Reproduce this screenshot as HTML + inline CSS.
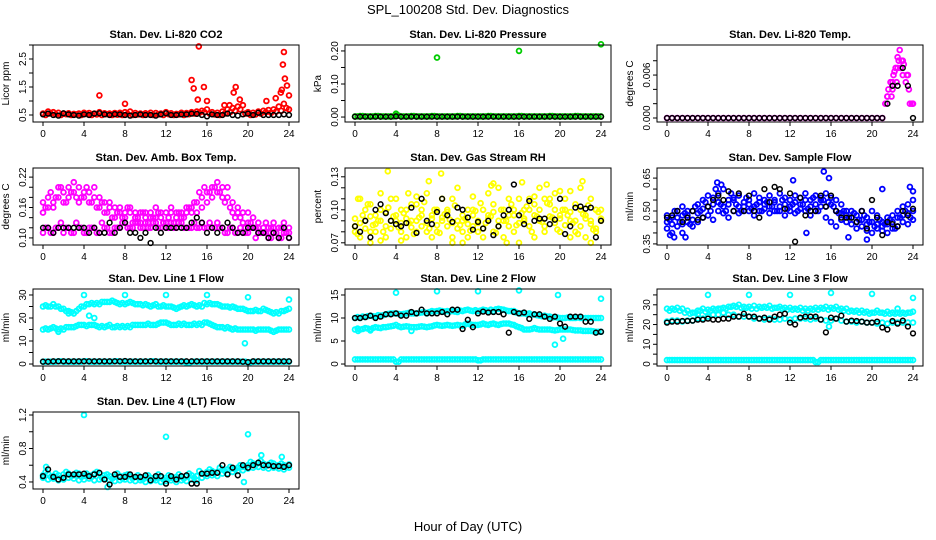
<!DOCTYPE html>
<html><head><meta charset="utf-8"><style>
body{margin:0;background:#fff;}
svg{display:block;font-family:"Liberation Sans",Arial,sans-serif;}
</style></head><body>
<svg id="chart" width="936" height="540" viewBox="0 0 936 540" xmlns="http://www.w3.org/2000/svg">
<rect width="936" height="540" fill="#fff"/>
<text x="468" y="14" text-anchor="middle" font-size="13">SPL_100208  Std. Dev. Diagnostics</text>
<text x="468" y="531" text-anchor="middle" font-size="13">Hour of Day (UTC)</text>
</svg>
<script>
const T = [0,0.5,1,1.5,2,2.5,3,3.5,4,4.5,5,5.5,6,6.5,7,7.5,8,8.5,9,9.5,10,10.5,11,11.5,12,12.5,13,13.5,14,14.5,15,15.5,16,16.5,17,17.5,18,18.5,19,19.5,20,20.5,21,21.5,22,22.5,23,23.5,24];
const T2 = [0.25,0.75,1.25,1.75,2.25,2.75,3.25,3.75,4.25,4.75,5.25,5.75,6.25,6.75,7.25,7.75,8.25,8.75,9.25,9.75,10.25,10.75,11.25,11.75,12.25,12.75,13.25,13.75,14.25,14.75,15.25,15.75,16.25,16.75,17.25,17.75,18.25,18.75,19.25,19.75,20.25,20.75,21.25,21.75,22.25,22.75,23.25,23.75];
const xTicks = [0,4,8,12,16,20,24];

const co2Red = [0.55,0.62,0.6,0.58,0.55,0.56,0.54,0.55,0.58,0.57,0.55,0.6,0.56,0.55,0.57,0.58,0.6,0.62,0.57,0.55,0.56,0.58,0.57,0.55,0.6,0.56,0.54,0.58,0.57,0.6,0.62,0.65,0.7,0.6,0.58,0.62,0.7,0.75,0.8,0.85,0.6,0.58,0.62,0.65,0.68,0.7,0.8,0.9,0.7];
const co2Red2 = [0.5,0.55,0.52,0.5,0.53,0.5,0.52,0.5,0.54,0.5,0.52,0.5,0.53,0.5,0.51,0.5,0.54,0.5,0.52,0.5,0.53,0.5,0.52,0.5,0.53,0.5,0.52,0.5,0.53,0.55,0.58,0.6,0.55,0.52,0.5,0.55,0.6,0.65,0.7,0.55,0.5,0.52,0.55,0.6,0.58,0.62,0.65,0.75];
const co2Black = [0.52,0.55,0.5,0.48,0.56,0.52,0.5,0.48,0.52,0.5,0.55,0.56,0.52,0.5,0.53,0.52,0.5,0.48,0.5,0.52,0.5,0.5,0.48,0.52,0.56,0.5,0.5,0.52,0.52,0.55,0.54,0.5,0.45,0.52,0.5,0.5,0.55,0.5,0.48,0.52,0.55,0.5,0.58,0.5,0.5,0.5,0.5,0.52,0.5];
const co2OutT = [5.5,8,14.5,14.7,15.1,15.2,15.7,16,18.6,18.8,19.2,21.8,22.7,23.2,23.4,23.5,23.6,23.8,24,23.3,17.7,18.2];
const co2OutV = [1.2,0.9,1.75,1.45,1.05,2.95,1.5,1.0,1.3,1.5,1.05,1.0,1.1,1.3,2.3,2.75,1.8,1.55,1.2,1.4,0.85,0.85];

const presGreen = [0.002,0.003,0.002,0.002,0.003,0.002,0.002,0.002,0.004,0.002,0.002,0.003,0.002,0.002,0.002,0.003,0.002,0.002,0.002,0.002,0.003,0.002,0.002,0.002,0.002,0.002,0.003,0.002,0.002,0.002,0.002,0.002,0.003,0.002,0.002,0.002,0.002,0.002,0.003,0.002,0.002,0.002,0.002,0.003,0.002,0.002,0.002,0.002,0.002];
const presBlack = [0.001,0.001,0.001,0.001,0.001,0.001,0.001,0.001,0.002,0.001,0.001,0.001,0.001,0.001,0.001,0.001,0.001,0.001,0.001,0.001,0.001,0.001,0.001,0.001,0.001,0.001,0.001,0.001,0.001,0.001,0.001,0.001,0.001,0.001,0.001,0.001,0.001,0.001,0.001,0.001,0.001,0.001,0.001,0.001,0.001,0.001,0.001,0.001,0.001];
const presOutT = [8,16,24,4];
const presOutV = [0.18,0.2,0.22,0.01];

const tempMag = [0,0,0,0,0,0,0,0,0,0,0,0,0,0,0,0,0,0,0,0,0,0,0,0,0,0,0,0,0,0,0,0,0,0,0,0,0,0,0,0,0,0,0,0.003,0.005,0.007,0.008,0.006,0.002];
const tempBlack = [0,0,0,0,0,0,0,0,0,0,0,0,0,0,0,0,0,0,0,0,0,0,0,0,0,0,0,0,0,0,0,0,0,0,0,0,0,0,0,0,0,0,0,0.002,0.0045,0.0045,0.007,0.0045,0];
const tempOutT = [21.3,21.5,21.6,21.8,22,22.1,22.3,22.4,22.6,22.7,22.8,22.9,23,23.1,23.3,23.4,23.6,23.7,23.9,22.5,22.2,21.9];
const tempOutV = [0.002,0.003,0.004,0.005,0.004,0.006,0.007,0.005,0.008,0.0095,0.007,0.008,0.006,0.0075,0.005,0.006,0.004,0.002,0.002,0.0085,0.0065,0.003];

const ambUpper = [0.15,0.16,0.17,0.18,0.19,0.2,0.21,0.2,0.19,0.19,0.2,0.18,0.17,0.16,0.16,0.15,0.15,0.16,0.14,0.15,0.14,0.15,0.14,0.15,0.15,0.15,0.14,0.15,0.15,0.16,0.17,0.18,0.19,0.2,0.21,0.2,0.18,0.17,0.15,0.15,0.13,0.14,0.12,0.12,0.11,0.12,0.12,0.13,0.12];
const ambMid = [0.17,0.18,0.16,0.2,0.17,0.18,0.19,0.17,0.18,0.17,0.18,0.16,0.15,0.17,0.14,0.16,0.14,0.15,0.15,0.13,0.15,0.14,0.16,0.14,0.13,0.16,0.15,0.14,0.16,0.15,0.15,0.16,0.17,0.18,0.19,0.18,0.2,0.15,0.16,0.13,0.15,0.12,0.13,0.11,0.12,0.13,0.1,0.12,0.11];
const ambLower = [0.11,0.12,0.11,0.12,0.11,0.12,0.11,0.12,0.11,0.12,0.12,0.11,0.12,0.11,0.12,0.12,0.13,0.12,0.13,0.12,0.13,0.12,0.13,0.12,0.12,0.13,0.12,0.13,0.12,0.12,0.12,0.13,0.12,0.12,0.13,0.12,0.11,0.12,0.11,0.11,0.11,0.12,0.11,0.11,0.10,0.11,0.10,0.11,0.10];
const ambB2 = [0.16,0.19,0.18,0.2,0.17,0.19,0.18,0.18,0.2,0.17,0.16,0.17,0.15,0.14,0.15,0.14,0.16,0.13,0.14,0.15,0.13,0.14,0.15,0.13,0.14,0.13,0.15,0.14,0.16,0.17,0.19,0.2,0.19,0.2,0.19,0.17,0.16,0.14,0.14,0.12,0.13,0.12,0.11,0.13,0.12,0.11,0.12,0.11];
const ambB3 = [0.12,0.11,0.12,0.13,0.12,0.11,0.13,0.12,0.11,0.12,0.11,0.13,0.12,0.11,0.12,0.13,0.12,0.12,0.13,0.12,0.12,0.13,0.12,0.13,0.12,0.12,0.13,0.12,0.12,0.13,0.12,0.12,0.13,0.12,0.12,0.11,0.12,0.11,0.12,0.11,0.12,0.1,0.11,0.11,0.1,0.11,0.1,0.11];
const ambBlack = [0.12,0.12,0.11,0.12,0.12,0.12,0.12,0.12,0.12,0.11,0.12,0.11,0.11,0.13,0.11,0.12,0.13,0.11,0.11,0.1,0.11,0.09,0.12,0.11,0.12,0.12,0.12,0.12,0.12,0.13,0.14,0.13,0.11,0.12,0.11,0.12,0.13,0.12,0.11,0.11,0.12,0.12,0.11,0.11,0.1,0.11,0.1,0.12,0.1];

const rhY1 = [0.085,0.11,0.09,0.08,0.095,0.1,0.085,0.11,0.09,0.08,0.1,0.09,0.105,0.085,0.08,0.095,0.1,0.09,0.085,0.11,0.09,0.095,0.1,0.085,0.09,0.1,0.095,0.105,0.09,0.1,0.085,0.095,0.11,0.1,0.1,0.105,0.1,0.11,0.105,0.1,0.095,0.1,0.09,0.105,0.1,0.095,0.09,0.1,0.09];
const rhY2 = [0.08,0.075,0.1,0.105,0.08,0.115,0.075,0.09,0.11,0.1,0.075,0.105,0.08,0.1,0.115,0.075,0.08,0.11,0.1,0.075,0.12,0.08,0.075,0.1,0.08,0.075,0.115,0.08,0.12,0.075,0.11,0.08,0.07,0.09,0.11,0.075,0.12,0.08,0.11,0.115,0.08,0.11,0.075,0.08,0.12,0.075,0.11,0.08,0.1];
const rhY3 = [0.092,0.088,0.083,0.094,0.087,0.09,0.098,0.083,0.095,0.088,0.092,0.084,0.09,0.095,0.088,0.092,0.086,0.093,0.098,0.088,0.083,0.09,0.087,0.095,0.088,0.083,0.092,0.098,0.085,0.09,0.095,0.1,0.088,0.092,0.085,0.095,0.09,0.085,0.094,0.088,0.092,0.086,0.098,0.09,0.085,0.092,0.087,0.083,0.092];
const rhY4 = [0.078,0.095,0.105,0.086,0.09,0.08,0.102,0.094,0.084,0.097,0.088,0.078,0.093,0.107,0.083,0.1,0.079,0.096,0.091,0.104,0.086,0.092,0.081,0.099,0.106,0.088,0.094,0.079,0.1,0.09,0.105,0.086,0.097,0.103,0.08,0.094,0.089,0.106,0.093,0.082,0.1,0.095,0.088,0.078,0.096,0.104,0.082,0.098];
const rhOutT = [1.5,3.2,5.2,6,7.2,8.4,10.5,13.3,13.5,16.3,18.7,20,22.2,0.3,2.5,4.5,9.5,11.5,14.8,17.5,21,23];
const rhOutV = [0.07,0.135,0.115,0.112,0.126,0.133,0.07,0.122,0.124,0.125,0.123,0.117,0.126,0.11,0.072,0.072,0.07,0.112,0.07,0.112,0.117,0.07];
const rhBlack = [0.085,0.08,0.09,0.075,0.1,0.105,0.097,0.09,0.087,0.085,0.088,0.102,0.079,0.11,0.09,0.087,0.098,0.11,0.095,0.089,0.102,0.1,0.093,0.082,0.089,0.083,0.09,0.077,0.085,0.095,0.1,0.123,0.095,0.087,0.108,0.09,0.092,0.092,0.087,0.091,0.11,0.078,0.085,0.102,0.103,0.101,0.102,0.075,0.09];

const sfB1 = [0.45,0.47,0.5,0.52,0.48,0.5,0.53,0.55,0.57,0.56,0.58,0.6,0.55,0.56,0.57,0.54,0.55,0.58,0.56,0.55,0.57,0.55,0.58,0.56,0.55,0.57,0.56,0.58,0.55,0.57,0.56,0.58,0.56,0.55,0.53,0.5,0.5,0.48,0.5,0.47,0.5,0.48,0.45,0.47,0.48,0.5,0.52,0.53,0.55];
const sfB2 = [0.42,0.4,0.43,0.44,0.45,0.43,0.45,0.47,0.48,0.46,0.5,0.49,0.47,0.5,0.49,0.52,0.5,0.48,0.5,0.51,0.49,0.5,0.52,0.48,0.5,0.49,0.51,0.5,0.48,0.5,0.52,0.47,0.45,0.43,0.46,0.45,0.44,0.42,0.43,0.41,0.4,0.42,0.41,0.4,0.42,0.43,0.45,0.44,0.46];
const sfB3 = [0.48,0.44,0.47,0.48,0.5,0.46,0.49,0.51,0.52,0.53,0.54,0.52,0.53,0.55,0.52,0.5,0.53,0.52,0.54,0.53,0.52,0.54,0.5,0.53,0.52,0.54,0.53,0.55,0.52,0.53,0.55,0.52,0.53,0.5,0.49,0.48,0.47,0.45,0.46,0.44,0.45,0.44,0.43,0.44,0.45,0.47,0.48,0.49,0.5];
const sfB4 = [0.46,0.5,0.45,0.49,0.44,0.52,0.5,0.54,0.5,0.6,0.53,0.5,0.58,0.53,0.5,0.56,0.51,0.53,0.5,0.54,0.52,0.5,0.55,0.51,0.53,0.5,0.53,0.51,0.56,0.5,0.55,0.54,0.52,0.49,0.5,0.47,0.49,0.46,0.48,0.45,0.43,0.46,0.44,0.46,0.42,0.47,0.5,0.47];
const sfOutT = [0.3,0.7,1.5,1.8,4.9,5.3,12.3,15.3,15.8,17.7,19.5,21,23.7,24,13.6];
const sfOutV = [0.39,0.38,0.4,0.38,0.63,0.62,0.64,0.68,0.65,0.38,0.37,0.6,0.61,0.59,0.4];
const sfBlack = [0.47,0.48,0.5,0.45,0.47,0.5,0.46,0.47,0.52,0.55,0.57,0.55,0.59,0.5,0.58,0.5,0.57,0.5,0.47,0.6,0.54,0.61,0.6,0.51,0.58,0.36,0.56,0.48,0.5,0.5,0.57,0.52,0.57,0.5,0.47,0.47,0.47,0.45,0.5,0.42,0.55,0.47,0.39,0.45,0.44,0.43,0.5,0.48,0.51];

const l1Upper = [25,25,26,25,24,23,22,24,25,26,26,26,27,27,27,26,26,27,26,26,26,25,26,25,25,25,24,25,25,26,25,25,26,26,26,25,25,25,24,24,23,23,23,24,23,22,22,23,24];
const l1Up2 = [25.5,25,25,24,23,22.5,23,25,26,26.5,26.5,27,27,27.5,26.5,26.5,26.5,26.5,26,25.5,25.5,25.5,25,25.5,25,24.5,24.5,25.5,25.5,25.5,25.5,26.5,26.5,26,25.5,25,24.5,24.5,24,23.5,23,23.5,23,23.5,22.5,22.5,23,23.5];
const l1Mid = [15,15,16,15,15,16,16,17,17,17,17,16,16,17,16,16,16,16,17,17,17,17,17,18,18,17,17,17,17,17,17,17,18,17,16,16,16,15,15,15,15,15,15,15,15,14,15,15,15];
const l1Mid2 = [15.5,15.5,15.5,15.5,16,16,16.5,17,16.5,17,16.5,16.5,16.5,16,16.5,16.5,16.5,17,17,17,17.5,17,17.5,18,17.5,17,17.5,17.5,17,17.5,17.5,18,17.5,16.5,16,15.5,15.5,15.5,15,15,15,14.5,15,15,14.5,14.5,15,15];
const l1Low = [1,1,1,1.2,1,1,1,1,1.2,1,1,1,1,1,1.2,1,1,1,1,1,1,1.2,1,1,1,1,1,1,0.5,1,1,1,1,1,1,1,1,1,1,1,0.8,1,1,1,1,1,1,1,1];
const l1OutT = [4,8,12,16,20,24,19.7,4.5,5,3,2.5,1.5];
const l1OutV = [30,30,30,30,29,28,9,21,20,22,22,14];
const l1Black = [1,1,1.2,1.2,1.2,1.2,1.2,1.2,1.2,1.2,1.2,1.2,1.2,1.2,1.2,1.2,1.3,1.2,1.2,1.2,1.2,1.2,1.2,1.2,1.2,1.2,1.2,1.2,1.2,1.2,1.2,1.2,1.2,1.2,1.2,1.2,1.2,1.2,1.2,1,0.8,1.2,1.2,1.2,1.2,1.2,1.2,1.2,1.2];

const l2Upper = [10,10,10.2,10.5,10.3,10.5,10.8,11,11,10.8,11,11,11,11.2,11,11.5,11.5,11.5,11.5,11.5,11.3,11.5,11.8,11.5,11.5,11.8,11.5,11.5,12,11.8,11.5,11.5,11,11,11,10.8,10.5,10.5,10.3,10.2,10,10,10,10,10,10,10,10,10];
const l2Up2 = [10.2,10.3,10.4,10.4,10.6,10.6,10.9,11,10.9,10.9,11.1,11,11.1,11.3,11.3,11.4,11.6,11.4,11.4,11.4,11.6,11.7,11.6,11.7,11.6,11.7,11.8,11.9,11.9,11.6,11.5,11.2,11,10.9,10.7,10.6,10.4,10.3,10.1,10.1,10,10.1,10,10.1,10,10,10,10];
const l2Mid = [7.5,7.5,7.8,7.5,8,7.8,8,8.2,8.5,8,8.2,8,8,8.2,8,8.2,8.5,8.3,8.5,8.3,8.5,8.3,8.8,8.5,8.5,8.8,8.5,8.8,8.5,8.8,8.8,8.5,8,7.5,7.5,7.8,7.5,7.5,7.5,7.3,7.5,7.5,7.5,7.3,7.3,7.2,7.2,7,7];
const l2Mid2 = [7.7,7.6,7.7,7.8,7.9,8,8.1,8.3,8.2,8.1,8.1,8,8.1,8.1,8.1,8.4,8.4,8.4,8.4,8.4,8.4,8.6,8.6,8.5,8.6,8.6,8.7,8.6,8.7,8.8,8.6,8.2,7.8,7.5,7.6,7.6,7.5,7.5,7.4,7.4,7.5,7.5,7.4,7.3,7.2,7.2,7.1,7];
const l2Low = [1,1,1,1,1,1,1,1,0.5,1,1,1,1,1,1,1,1,1,1,1,1,1,1,1,0.8,1,1,1,1,1,1,1,1,1,1,1,1,1,1,1,1,1,1,1,1,1,1,1,1];
const l2OutT = [4,8,12,16,19.8,24,19.5,0.3,5.5,1.5,20.3];
const l2OutV = [15.5,15.8,15.8,16,15,14.2,4.2,7.2,7.2,7.3,5.5];
const l2Black = [10,10,10.2,10.5,10,10.3,10.8,10.8,11,10.5,10.5,11.3,11,11.8,11,11,11,11.3,10.8,11.8,11.8,7.6,9.6,8,11,11.4,11.2,11.3,11.3,10.8,6.8,11.3,11,11.2,9.8,10.8,10.8,10.3,9.8,10.3,8.8,8.1,10.3,10.3,10.3,9.2,9.2,6.8,7];

const l3Upper = [28,28,28.5,28,27,26,27,28,27.5,28,28,28.5,29,29.5,30,29,29,29.5,29,29,29.5,28.5,29,28.5,28.5,28,28.5,28,28,28.5,28.5,29,28.5,29,28,28,27,27,27,26.5,26,27,26,26.5,26,26,26,26,26.5];
const l3Up2 = [27,27.5,27,26,25.5,26,27,26.5,27,27.5,28,28,29,29,28.5,28.5,28,28,28.5,28.5,28,28.5,28,27.5,27.5,27.5,27,27,27.5,27.5,28,27.5,28,27.5,27,26.5,26.5,26,26,25.5,26,26,25.5,25.5,25.5,25.5,25.5,26];
const l3Mid = [21.5,22,22,21.5,22,22,23,23,24,25,25,26,25,25,24,24,24,23,23,22.5,23,22.5,22.5,23,22.5,23,23,23,22.5,23,22.5,22,22,23,22,21.5,21.5,21,21.5,21,21,20.5,21,20.5,21,21,21,21,21];
const l3Low = [2,2,2,2,2,2,2,2,2,2,2,2,2,2,2,2,2,2,2,2,2,2,2,2,2,2,2,2,2,1,2,2,2,2,2,2,2,2,2,2,2,2,2,2,2,2,2,2,2];
const l3OutT = [4,8,12,16,20,24,3,15.8,22.5];
const l3OutV = [35,35,35,36,35.5,33.5,25,19,28];
const l3Black = [21,21.5,21.5,21.8,21.8,22,22.5,22.5,23,22.5,22.5,23,23,24,24,25.5,24,24,23,23.5,22.5,24,25,25.5,21,20,23.5,24,24,24,22.5,16,23.5,23,24.5,21.5,22,21.8,21.5,21,21,21.5,18.5,17.5,21.8,20.5,22,19,15.5];

const l4B1 = [0.48,0.5,0.47,0.48,0.49,0.5,0.48,0.5,0.47,0.48,0.5,0.5,0.48,0.47,0.46,0.47,0.48,0.47,0.46,0.45,0.46,0.45,0.45,0.46,0.45,0.45,0.46,0.46,0.47,0.48,0.47,0.5,0.52,0.53,0.52,0.55,0.55,0.56,0.57,0.58,0.6,0.62,0.63,0.62,0.61,0.62,0.6,0.6,0.61];
const l4B2 = [0.45,0.43,0.44,0.42,0.43,0.45,0.44,0.42,0.43,0.44,0.42,0.43,0.44,0.42,0.41,0.42,0.43,0.42,0.41,0.42,0.4,0.41,0.42,0.4,0.41,0.42,0.4,0.42,0.41,0.43,0.42,0.45,0.47,0.48,0.47,0.5,0.5,0.52,0.53,0.54,0.56,0.57,0.58,0.57,0.56,0.57,0.56,0.55,0.57];
const l4B3 = [0.52,0.46,0.5,0.45,0.52,0.47,0.51,0.46,0.5,0.46,0.52,0.45,0.49,0.44,0.5,0.44,0.49,0.44,0.48,0.43,0.48,0.43,0.49,0.43,0.48,0.44,0.49,0.44,0.5,0.45,0.53,0.49,0.55,0.5,0.57,0.53,0.58,0.55,0.6,0.58,0.64,0.6,0.65,0.59,0.63,0.58,0.62,0.58];
const l4OutT = [4,12,20,0.3,6.3,19.6,21.3,23.3];
const l4OutV = [1.2,0.94,0.97,0.58,0.34,0.4,0.72,0.7];
const l4Black = [0.47,0.55,0.46,0.43,0.45,0.49,0.49,0.49,0.5,0.47,0.49,0.51,0.43,0.37,0.49,0.46,0.46,0.49,0.46,0.46,0.48,0.42,0.47,0.47,0.38,0.47,0.43,0.47,0.48,0.38,0.38,0.5,0.5,0.51,0.51,0.6,0.49,0.57,0.48,0.6,0.57,0.6,0.63,0.6,0.6,0.59,0.59,0.58,0.6];

const panels = [
 {name:'co2', title:'Stan. Dev. Li-820 CO2', ylab:'Licor ppm', col:0,row:0, ymin:0.25,ymax:3.0, ticks:[0.5,1,1.5,2,2.5,3], labels:['0.5','','1.5','','2.5',''],
  series:[[T,co2Red,'#ff0000'],[T2,co2Red2,'#ff0000'],[co2OutT,co2OutV,'#ff0000'],[T,co2Black,'#000']]},
 {name:'pressure', title:'Stan. Dev. Li-820 Pressure', ylab:'kPa', col:1,row:0, ymin:-0.015,ymax:0.218, ticks:[0,0.05,0.1,0.15,0.2], labels:['0.00','','0.10','','0.20'],
  series:[[T,presGreen,'#00cc00'],[T2,presGreen,'#00cc00'],[presOutT,presOutV,'#00cc00'],[T,presBlack,'#000']]},
 {name:'li820-temp', title:'Stan. Dev. Li-820 Temp.', ylab:'degrees C', col:2,row:0, ymin:-0.00056,ymax:0.0102, ticks:[0,0.002,0.004,0.006,0.008], labels:['0.000','','','0.006',''],
  series:[[T,tempMag,'#ff00ff'],[tempOutT,tempOutV,'#ff00ff'],[T,tempBlack,'#000']]},
 {name:'amb-box-temp', title:'Stan. Dev. Amb. Box Temp.', ylab:'degrees C', col:0,row:1, ymin:0.086,ymax:0.238, ticks:[0.1,0.12,0.14,0.16,0.18,0.2,0.22], labels:['0.10','','','0.16','','','0.22'],
  series:[[T,ambUpper,'#ff00ff'],[T,ambMid,'#ff00ff'],[T,ambLower,'#ff00ff'],[T2,ambB2,'#ff00ff'],[T2,ambB3,'#ff00ff'],[T,ambBlack,'#000']]},
 {name:'gas-stream-rh', title:'Stan. Dev. Gas Stream RH', ylab:'percent', col:1,row:1, ymin:0.068,ymax:0.138, ticks:[0.07,0.08,0.09,0.1,0.11,0.12,0.13], labels:['0.07','','','0.10','','','0.13'],
  series:[[T,rhY1,'#ffff00'],[T,rhY2,'#ffff00'],[T,rhY3,'#ffff00'],[T2,rhY4,'#ffff00'],[rhOutT,rhOutV,'#ffff00'],[T,rhBlack,'#000']]},
 {name:'sample-flow', title:'Stan. Dev. Sample Flow', ylab:'ml/min', col:2,row:1, ymin:0.345,ymax:0.696, ticks:[0.35,0.4,0.45,0.5,0.55,0.6,0.65], labels:['0.35','','','0.50','','','0.65'],
  series:[[T,sfB1,'#0000ff'],[T,sfB2,'#0000ff'],[T,sfB3,'#0000ff'],[T2,sfB4,'#0000ff'],[sfOutT,sfOutV,'#0000ff'],[T,sfBlack,'#000']]},
 {name:'line1-flow', title:'Stan. Dev. Line 1 Flow', ylab:'ml/min', col:0,row:2, ymin:-0.86,ymax:32.6, ticks:[0,5,10,15,20,25,30], labels:['0','','10','','20','','30'],
  series:[[T,l1Upper,'#00ffff'],[T2,l1Up2,'#00ffff'],[T,l1Mid,'#00ffff'],[T2,l1Mid2,'#00ffff'],[T,l1Low,'#00ffff'],[T2,l1Low,'#00ffff'],[l1OutT,l1OutV,'#00ffff'],[T,l1Black,'#000']]},
 {name:'line2-flow', title:'Stan. Dev. Line 2 Flow', ylab:'ml/min', col:1,row:2, ymin:-0.43,ymax:16.3, ticks:[0,5,10,15], labels:['0','5','10','15'],
  series:[[T,l2Upper,'#00ffff'],[T2,l2Up2,'#00ffff'],[T,l2Mid,'#00ffff'],[T2,l2Mid2,'#00ffff'],[T,l2Low,'#00ffff'],[T2,l2Low,'#00ffff'],[l2OutT,l2OutV,'#00ffff'],[T,l2Black,'#000']]},
 {name:'line3-flow', title:'Stan. Dev. Line 3 Flow', ylab:'ml/min', col:2,row:2, ymin:-1,ymax:38, ticks:[0,5,10,15,20,25,30,35], labels:['0','','10','','20','','30',''],
  series:[[T,l3Upper,'#00ffff'],[T2,l3Up2,'#00ffff'],[T,l3Mid,'#00ffff'],[T,l3Low,'#00ffff'],[T2,l3Low,'#00ffff'],[l3OutT,l3OutV,'#00ffff'],[T,l3Black,'#000']]},
 {name:'line4-flow', title:'Stan. Dev. Line 4 (LT) Flow', ylab:'ml/min', col:0,row:3, ymin:0.316,ymax:1.236, ticks:[0.4,0.6,0.8,1.0,1.2], labels:['0.4','','0.8','','1.2'],
  series:[[T,l4B1,'#00ffff'],[T,l4B2,'#00ffff'],[T2,l4B3,'#00ffff'],[l4OutT,l4OutV,'#00ffff'],[T,l4Black,'#000']]}
];

const colL = [33,345,657], rowT = [45,168,289,412], PW = 266, PH = 77;
const svg = document.getElementById('chart');
const NS = 'http://www.w3.org/2000/svg';
function mk(tag, attrs, parent){
  const e = document.createElementNS(NS, tag);
  for (const k in attrs) e.setAttribute(k, attrs[k]);
  parent.appendChild(e);
  return e;
}
panels.forEach(p => {
  const L = colL[p.col], Tp = rowT[p.row];
  const g = mk('g', {}, svg);
  
  
  const xs = v => L + 10 + v / 24 * 246;
  const ys = v => Tp + PH - (v - p.ymin) / (p.ymax - p.ymin) * PH;
  const t = mk('text', {x: L + PW/2, y: Tp - 7, 'text-anchor':'middle', 'font-size':'11', 'font-weight':'bold'}, g);
  t.textContent = p.title;
  
  
  const yl = mk('text', {x: L - 24, y: Tp + PH/2, 'text-anchor':'middle', 'font-size':'10', transform:`rotate(-90 ${L-24} ${Tp+PH/2})`}, g);
  yl.textContent = p.ylab;
  
  
  p.series.forEach(s => {
    const [tx, vy, c] = s;
    const black = c === '#000';
    const n = Math.min(tx.length, vy.length);
    for (let i = 0; i < n; i++) {
      const cc = mk('circle', {cx: xs(tx[i]).toFixed(1), cy: ys(vy[i]).toFixed(1), r: 2.4, fill:'none', stroke:c, 'stroke-width': black ? 1.5 : 1.8}, g);
      
      
    }
  });
  const box = mk('rect', {x:L, y:Tp, width:PW, height:PH, fill:'none', stroke:'#000', 'stroke-width':1}, g);
  
  
  xTicks.forEach(v => {
    const x = xs(v);
    mk('line', {x1:x, x2:x, y1:Tp+PH, y2:Tp+PH+4, stroke:'#000'}, g);
    const lt = mk('text', {x:x, y:Tp+PH+15, 'text-anchor':'middle', 'font-size':'10'}, g);
    lt.textContent = v;
    
    
  });
  p.ticks.forEach((v, i) => {
    const y = ys(v);
    mk('line', {x1:L-4, x2:L, y1:y, y2:y, stroke:'#000'}, g);
    if (p.labels[i]) {
      const lt = mk('text', {x:L-7, y:y, 'text-anchor':'middle', 'font-size':'10', transform:`rotate(-90 ${L-7} ${y})`}, g);
      lt.textContent = p.labels[i];
      
      
    }
  });
});
</script>
</body></html>
